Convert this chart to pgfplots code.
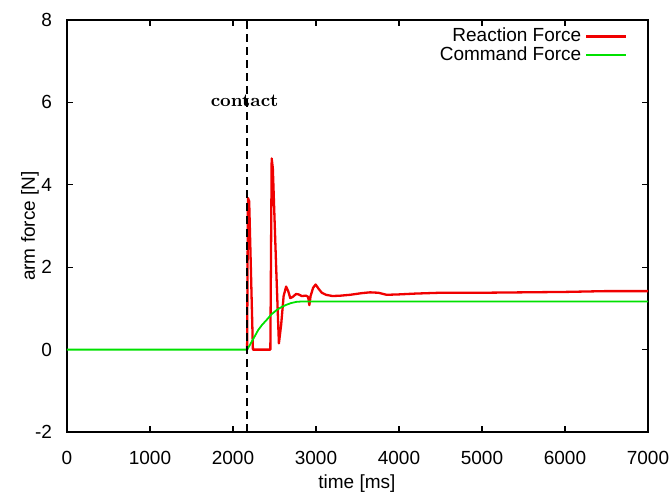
\documentclass[border=0pt]{standalone}
\usepackage{fontspec}
\newfontfamily\arial{Liberation Sans}
\usepackage{pgfplots}
\pgfplotsset{compat=1.18}
\definecolor{gred}{RGB}{240,0,0}
\definecolor{ggreen}{RGB}{0,225,0}
\begin{document}
\begin{tikzpicture}[font=\arial\fontsize{9.5}{11}\selectfont]
\useasboundingbox (-33.5pt,-30pt) rectangle (302.5pt,216pt);
\begin{axis}[
  at={(0,0)}, anchor=south west,
  scale only axis, width=290.5pt, height=206pt,
  xmin=0, xmax=7000, ymin=-2, ymax=8,
  xtick={0,1000,...,7000}, ytick={-2,0,...,8},
  tick align=inside, tickpos=both, major tick length=3pt,
  tick style={black, line width=0.6pt},
  axis line style={line width=0.7pt},
  /pgf/number format/assume math mode=true,
  /pgf/number format/set thousands separator={},
  ticklabel style={font=\arial\fontsize{9.5}{11}\selectfont},
  xticklabel style={yshift=-6pt},
  yticklabel style={xshift=-4pt},
  xlabel={time [ms]}, ylabel={arm force [N]},
  xlabel style={at={(axis description cs:0.499,-0.125)}, anchor=center},
  ylabel style={at={(axis description cs:-0.0637,0.5)}, anchor=center, rotate=0},
  legend plot pos=right,
  legend cell align=right,
  legend style={draw=none, fill=none, at={(0.969,0.996)}, anchor=north east,
    row sep=-3pt, inner sep=1pt},
  legend image code/.code={\draw[#1] (0pt,0pt) -- (20pt,0pt);},
]
\addplot[gred, line width=1.15pt, line join=round] coordinates {
(2170,0) (2180,3.68) (2195,3.6) (2240,0) (2450,0) (2466,4.64) (2480,4.4)
(2520,2.0) (2553,0.15) (2580,0.6) (2610,1.3) (2640,1.53) (2665,1.42) (2690,1.25)
(2720,1.28) (2760,1.35) (2790,1.34) (2830,1.30) (2880,1.31) (2905,1.28) (2920,1.08)
(2935,1.30) (2965,1.50) (2996,1.58) (3030,1.48) (3070,1.38) (3120,1.33) (3200,1.30)
(3300,1.31) (3410,1.33) (3550,1.37) (3650,1.39) (3750,1.38) (3850,1.33) (4000,1.34)
(4200,1.36) (4500,1.38) (5000,1.38) (5500,1.39) (6000,1.40) (6500,1.42) (7000,1.42)
};
\addlegendentry{Reaction Force}
\addplot[ggreen, line width=0.9pt] coordinates {
(0,0) (2170,0) (2200,0.1) (2250,0.28) (2305,0.48) (2350,0.6) (2405,0.72) (2460,0.85)
(2526,0.96) (2590,1.04) (2646,1.09) (2700,1.13) (2767,1.16) (2850,1.17) (7000,1.17)
};
\addlegendentry{Command Force}
\draw[black, line width=0.9pt, dash pattern=on 4pt off 2.5pt] (axis cs:2170,-2) -- (axis cs:2170,8);
\node[font=\rmfamily\bfseries\fontsize{9}{11}\selectfont] at (axis cs:2140,6.03) {contact};
\end{axis}
\end{tikzpicture}
\end{document}
